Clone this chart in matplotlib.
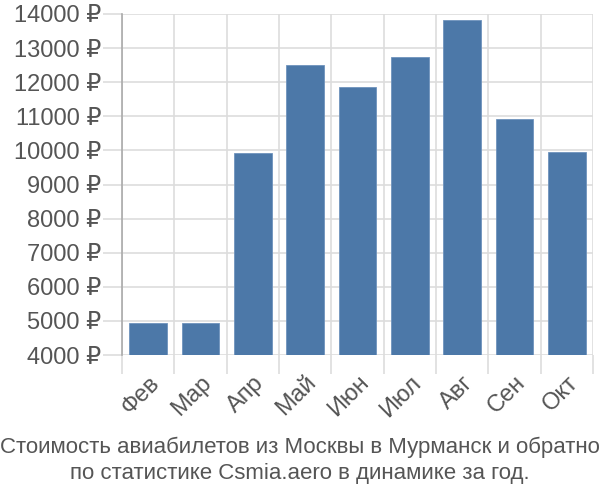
import matplotlib
matplotlib.use('Agg')
import matplotlib.pyplot as plt
import numpy as np

plt.rcParams['font.family'] = ['Liberation Sans', 'DejaVu Sans']

# Data
months = ['Фев', 'Мар', 'Апр', 'Май', 'Июн', 'Июл', 'Авг', 'Сен', 'Окт']
prices = [4950, 4950, 9920, 12500, 11850, 12740, 13810, 10930, 9950]
yticks = list(range(4000, 14001, 1000))

fig = plt.figure(figsize=(6, 5), dpi=100)
ax = fig.add_axes([122 / 600, 1 - 355 / 500, (593 - 122) / 600, (355 - 14) / 500])

x = np.arange(len(months))
ax.bar(x, prices, width=0.72, color='#4c78a8', edgecolor='#6f93bd', linewidth=0.6, zorder=3)

ax.set_xlim(-0.5, len(months) - 0.5)
ax.set_ylim(4000, 14000)
ax.set_yticks(yticks)
ax.set_yticklabels([f'{v} ₽' for v in yticks])

# vertical grid lines at category boundaries, extended below as ticks
ax.set_xticks(np.arange(-0.5, len(months)), minor=True)
ax.set_xticks(x)
ax.set_xticklabels(months, rotation=45, ha='right', rotation_mode='anchor')
ax.grid(True, which='minor', axis='x', color='#dddddd', linewidth=1.2, zorder=0)
ax.grid(True, which='major', axis='y', color='#dddddd', linewidth=1.2, zorder=0)
ax.tick_params(axis='x', which='minor', length=14, color='#dddddd', width=1.2)
ax.tick_params(axis='x', which='major', length=0, labelsize=17, labelcolor='#555555', pad=12)
ax.tick_params(axis='y', length=14, color='#dddddd', width=1.2, labelsize=17, labelcolor='#555555', pad=1)

for side in ['top', 'right', 'bottom']:
    ax.spines[side].set_visible(False)
ax.spines['left'].set_color('#aaaaaa')
ax.spines['left'].set_linewidth(1.2)
ax.spines['left'].set_bounds(4000, 14000)

fig.text(0.5, 1 - 447 / 500, 'Стоимость авиабилетов из Москвы в Мурманск и обратно',
         ha='center', va='center', fontsize=16, color='#555555')
fig.text(0.5, 1 - 473 / 500, 'по статистике Csmia.aero в динамике за год.',
         ha='center', va='center', fontsize=16, color='#555555')

fig.savefig('out.png', dpi=100)
